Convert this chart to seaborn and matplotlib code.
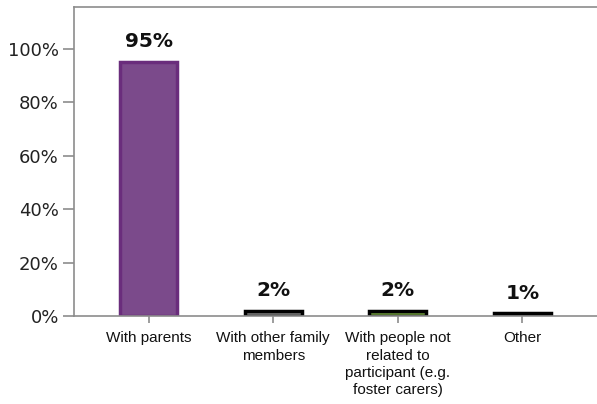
import matplotlib
matplotlib.use("Agg")
import matplotlib.pyplot as plt
import seaborn as sns
import pandas as pd

categories = ["With parents", "With other family\nmembers",
              "With people not\nrelated to\nparticipant (e.g.\nfoster carers)", "Other"]
values = [95, 2, 2, 1]
labels = ["95%", "2%", "2%", "1%"]
fill_colors = ["#7b4a8b", "#808080", "#6f9a3c", "#000000"]
edge_colors = ["#6a2d7c", "#000000", "#000000", "#000000"]
yticks = [0, 20, 40, 60, 80, 100]

sns.set_theme(style="white")
plt.rcParams['font.family'] = ['DejaVu Sans']

df = pd.DataFrame({"cat": categories, "val": values})

fig = plt.figure(figsize=(5.97, 4.04), dpi=100)
ax = fig.add_axes([0.124, 0.218, 0.876, 0.765])

sns.barplot(data=df, x="cat", y="val", hue="cat", palette=fill_colors,
            legend=False, width=0.46, ax=ax, saturation=1)
for p, ec in zip(ax.patches, edge_colors):
    p.set_edgecolor(ec)
    p.set_linewidth(2.5)

for i, (v, lab) in enumerate(zip(values, labels)):
    ax.text(i, v + 4.0, lab, ha="center", va="bottom", fontsize=14.5,
            fontweight="bold", color="#111111")

ax.set_ylim(0, 115.7)
ax.set_xlim(-0.6, 3.6)
ax.set_yticks(yticks)
ax.set_yticklabels([f"{t}%" for t in yticks], fontsize=13, color="#222222")
ax.set_xticks(range(len(categories)))
ax.set_xticklabels(categories, fontsize=11, color="#111111",
                   fontfamily="Liberation Sans", linespacing=1.3)
ax.set_xlabel("")
ax.set_ylabel("")

for side in ["left", "bottom", "top"]:
    ax.spines[side].set_visible(True)
    ax.spines[side].set_color("#8c8c8c")
    ax.spines[side].set_linewidth(1.2)
ax.spines["right"].set_visible(False)
ax.tick_params(axis="y", length=8, width=1.2, color="#8c8c8c", left=True, pad=3)
ax.tick_params(axis="x", length=5, width=1.2, color="#8c8c8c", bottom=True, pad=6)

fig.savefig("out.png", dpi=100)
